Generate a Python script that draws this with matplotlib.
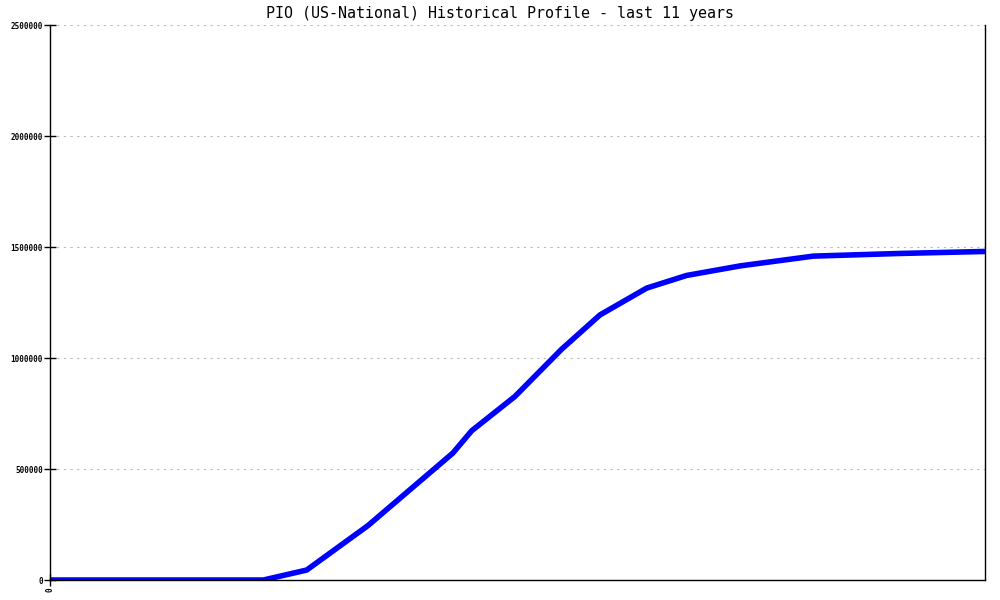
import matplotlib.pyplot as plt

# === Data ===
years = [0, 2.51, 3.02, 3.74, 4.74, 4.96, 5.47, 6.02, 6.47, 7.02, 7.49, 8.12, 8.98, 10.0, 11.0]
values = [0, 0, 45000, 245000, 572000, 672000, 827000, 1040000, 1194000, 1315000,
          1372000, 1415000, 1459000, 1471000, 1480000]
y_ticks = [0, 500000, 1000000, 1500000, 2000000, 2500000]
x_ticks = [0]
title = "PIO (US-National) Historical Profile - last 11 years"

# === Plotting ===
fig = plt.figure(figsize=(10, 6), dpi=100)
ax = fig.add_axes([0.05, 0.0333, 0.935, 0.925])

ax.plot(years, values, color='#0000ff', linewidth=4.0, solid_capstyle='butt')

ax.set_xlim(0, 11)
ax.set_ylim(0, 2500000)
ax.set_yticks(y_ticks)
ax.set_yticklabels([str(v) for v in y_ticks], family='DejaVu Sans Mono', fontsize=5.5, fontweight='bold')
ax.set_xticks(x_ticks)
ax.set_xticklabels(['0'], rotation=90, family='DejaVu Sans Mono', fontsize=5.5, fontweight='bold')
ax.tick_params(axis='both', length=8, width=1, direction='inout', pad=1)

ax.grid(axis='y', color='#bbbbbb', linestyle=(0, (2, 4)), linewidth=0.8)
ax.spines['top'].set_visible(False)
for s in ['left', 'right', 'bottom']:
    ax.spines[s].set_linewidth(1)

fig.text(0.5, 0.978, title, family='DejaVu Sans Mono', fontsize=10.8,
         ha='center', va='center')

plt.savefig("out.png", dpi=100)
